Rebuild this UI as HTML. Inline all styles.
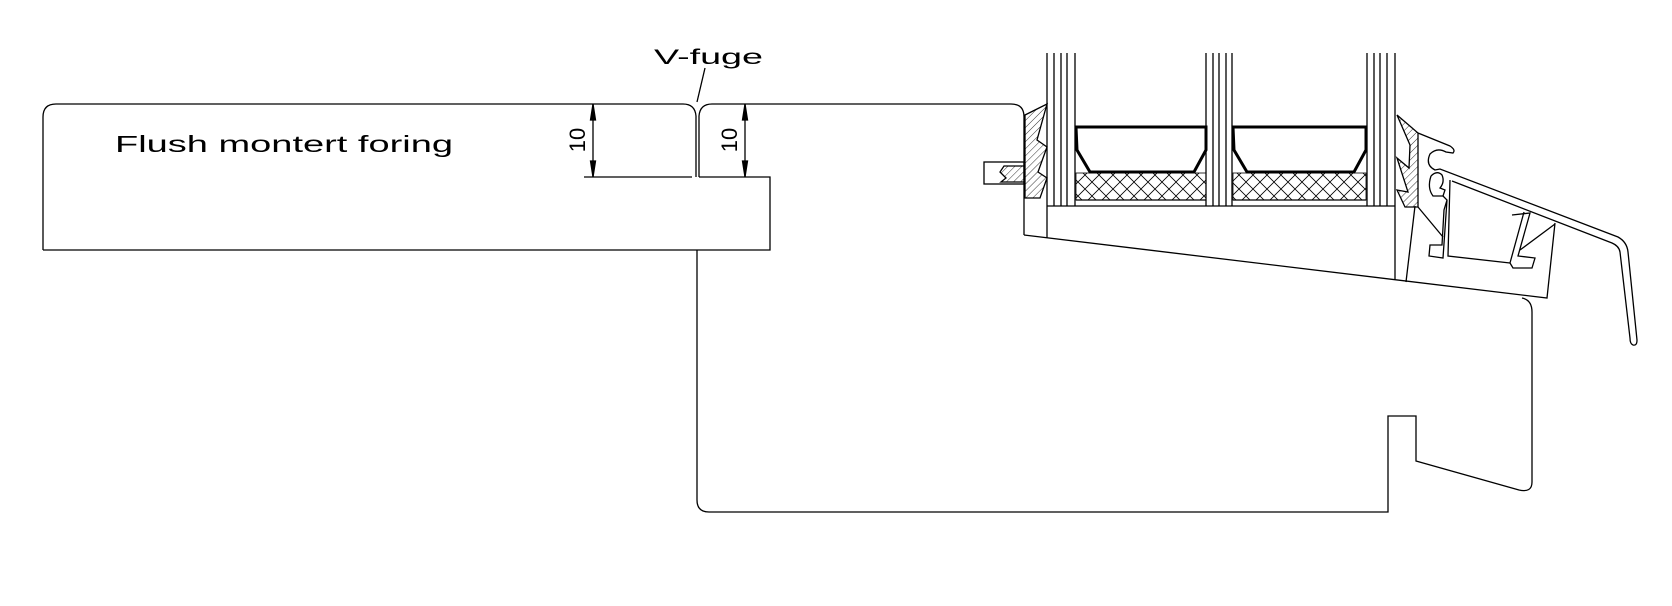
<!DOCTYPE html>
<html><head><meta charset="utf-8"><style>
html,body{margin:0;padding:0;background:#fff;}
svg{display:block;}
text{font-family:"Liberation Sans",sans-serif;fill:#000;}
</style></head><body>
<svg width="1672" height="606" viewBox="0 0 1672 606" xmlns="http://www.w3.org/2000/svg">
<defs>
<pattern id="h" width="5" height="5" patternUnits="userSpaceOnUse" patternTransform="rotate(45)">
<line x1="0" y1="0" x2="0" y2="5" stroke="#000" stroke-width="0.8"/></pattern>
<pattern id="x" width="14" height="14" patternUnits="userSpaceOnUse">
<path d="M0,0 L14,14 M14,0 L0,14" stroke="#000" stroke-width="0.8"/></pattern>
</defs>
<g fill="none" stroke="#000" stroke-width="1.3">
<!-- left board -->
<path d="M43,250 L43,117 Q43,104 56,104 L683,104 Q695,104 696,116 L696,177"/>
<path d="M584,177 L692,177 M699,177 L770,177 L770,250 L43,250"/>
<!-- right board top -->
<path d="M699,177 L699,116 Q700,104 712,104 L1011,104 Q1024,104 1024,117 L1024,235"/>
<!-- V-fuge leader -->
<path d="M705,68 L697,102"/>
<!-- dimensions -->
<path d="M593,104 L593,177 M745,104 L745,177"/>
<path d="M593,104 l-2.5,16 l5,0 z M593,177 l-2.5,-16 l5,0 z M745,104 l-2.5,16 l5,0 z M745,177 l-2.5,-16 l5,0 z" fill="#000"/>
<!-- lower frame -->
<path d="M697,250 L697,500 Q697,512 709,512 L1388,512 L1388,416 L1416,416 L1416,461 L1519,490 Q1532,493 1532,482 L1532,312 Q1532,300 1522,298"/>
<!-- sash -->
<path d="M1024,235 L1547,298 L1555,223"/>
<path d="M1047,206 L1047,238 M1395,206 L1395,280 M1406,282 L1415,206"/>
<path d="M1047,206 L1395,206"/>
<!-- glass lines -->
<path d="M1047,53 V206 M1054,53 V206 M1061,53 V206 M1067,53 V206 M1075,53 V206"/>
<path d="M1206,53 V206 M1213,53 V206 M1219,53 V206 M1226,53 V206 M1232,53 V206"/>
<path d="M1367,53 V206 M1374,53 V206 M1380,53 V206 M1387,53 V206 M1395,53 V206"/>
<!-- spacers -->
<path d="M1076,127 L1206,127 L1206,150 L1194,172 L1090,172 L1077,150 Z" stroke-width="3"/>
<path d="M1233,127 L1366,127 L1366,150 L1354,172 L1247,172 L1234,150 Z" stroke-width="3"/>
<rect x="1076" y="173" width="130" height="27" fill="url(#x)" stroke-width="0.8"/>
<rect x="1233" y="173" width="133" height="27" fill="url(#x)" stroke-width="0.8"/>
<path d="M1076,200 L1206,200 M1233,200 L1366,200"/>
<!-- left bead -->
<rect x="984" y="162" width="40" height="22"/>
<path d="M1025,115 L1047,104 L1037,140 L1047,147 L1038,172 L1047,178 L1040,198 L1025,198 Z" fill="url(#h)"/>
<path d="M1024,166 L1004,166 L1000,172 L1006,178 L1001,182 L1024,182" fill="url(#h)"/>
<!-- right bead -->
<path d="M1397,115 L1418,133 L1418,207 L1405,207 L1397,190 L1408,192 L1397,158 L1409,168 L1410,145 Z" fill="url(#h)"/>
<!-- drip profile -->
<path d="M1418,133 L1450,146 Q1456,150 1453,153 L1446,152 Q1437,147 1430,154 Q1425,165 1435,170 L1440,169 L1618,237 Q1627,242 1628,252 L1637,340 Q1637,346 1633,345 Q1630,344 1630,338 L1620,252 Q1619,246 1612,243 L1452,181"/>
<path d="M1431,176 Q1437,170 1442,175 Q1445,182 1440,188 L1445,190 L1443,196 L1433,196 Q1427,188 1431,176"/>
<path d="M1443,196 L1447,200 L1444,210 L1442,245 L1430,245 L1429,256 L1443,258 L1447,200"/>
<path d="M1450,180 L1448,256 L1510,263"/>
<path d="M1512,215 L1530,213 L1518,256 L1535,258 L1532,268 L1513,268 L1510,263 L1524,212"/>
<path d="M1520,250 L1555,224"/>
<path d="M1418,207 L1443,237"/>
</g>
<text x="115" y="152" font-size="23" textLength="338" lengthAdjust="spacingAndGlyphs">Flush montert foring</text>
<text x="654" y="64" font-size="21" textLength="109" lengthAdjust="spacingAndGlyphs">V-fuge</text>
<text transform="translate(585,140) rotate(-90)" font-size="22" text-anchor="middle">10</text>
<text transform="translate(737,140) rotate(-90)" font-size="22" text-anchor="middle">10</text>
</svg>
</body></html>
